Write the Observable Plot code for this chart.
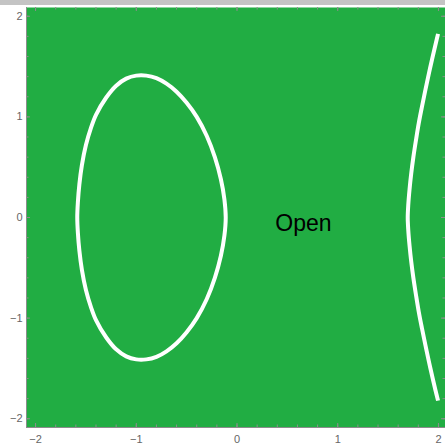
<!DOCTYPE html>
<html>
<head>
<meta charset="utf-8">
<script src="https://cdn.jsdelivr.net/npm/d3@7"></script>
<script src="https://cdn.jsdelivr.net/npm/@observablehq/plot@0.6"></script>
<style>
  html, body { margin: 0; padding: 0; background: #fff; }
  #bar { height: 5px; background: #c4c4c4; }
  #chart svg { display: block; }
</style>
</head>
<body>
<div id="bar"></div>
<div id="chart"></div>
<script>
// Oval (closed loop)
const ovalX = [-1.586, -1.580, -1.565, -1.54, -1.50, -1.45, -1.40, -1.30, -1.20, -1.10, -1.00, -0.90, -0.80, -0.70, -0.60, -0.50, -0.40, -0.30, -0.22, -0.16, -0.125, -0.112,
               -0.125, -0.16, -0.22, -0.30, -0.40, -0.50, -0.60, -0.70, -0.80, -0.90, -1.00, -1.10, -1.20, -1.30, -1.40, -1.45, -1.50, -1.54, -1.565, -1.580];
const ovalY = [0, 0.15, 0.33, 0.52, 0.72, 0.89, 1.02, 1.19, 1.31, 1.38, 1.41, 1.41, 1.385, 1.33, 1.25, 1.14, 1.00, 0.81, 0.60, 0.38, 0.18, 0,
               -0.18, -0.38, -0.60, -0.81, -1.00, -1.14, -1.25, -1.33, -1.385, -1.41, -1.41, -1.38, -1.31, -1.19, -1.02, -0.89, -0.72, -0.52, -0.33, -0.15];
// Right (open) branch
const rightX = [1.996, 1.971, 1.943, 1.907, 1.871, 1.836, 1.805, 1.777, 1.751, 1.730, 1.713, 1.700, 1.695, 1.700, 1.713, 1.730, 1.751, 1.777, 1.805, 1.836, 1.871, 1.907, 1.943, 1.971, 1.996];
const rightY = [1.825, 1.72, 1.60, 1.44, 1.27, 1.10, 0.94, 0.77, 0.60, 0.44, 0.28, 0.12, 0, -0.12, -0.28, -0.44, -0.60, -0.77, -0.94, -1.10, -1.27, -1.44, -1.60, -1.72, -1.82];
// Text label
const labelText = ["Open"];
const labelX = [0.66];
const labelY = [-0.06];
// Ticks
const majorTicks = [-2, -1, 0, 1, 2];
const minorTicks = [-2, -1.8, -1.6, -1.4, -1.2, -1, -0.8, -0.6, -0.4, -0.2, 0, 0.2, 0.4, 0.6, 0.8, 1, 1.2, 1.4, 1.6, 1.8, 2];

const xDomain = [-2.09, 2.07];
const yDomain = [-2.087, 2.087];

const W = 445, H = 439;
const mT = 2, mB = 17, mL = 26, mR = 0;
const pw = W - mL - mR, ph = H - mT - mB;

const oval = ovalX.map((x, i) => ({x, y: ovalY[i]}));
const right = rightX.map((x, i) => ({x, y: rightY[i]}));
const labels = labelText.map((t, i) => ({t, x: labelX[i], y: labelY[i]}));

const green = "#21ad43";
const axisGray = "#8c8c8c";
const font = "Liberation Sans, Arial, sans-serif";
const fmt = d3.format("d");

const chart = Plot.plot({
  width: W, height: H,
  marginTop: mT, marginBottom: mB, marginLeft: mL, marginRight: mR,
  x: {domain: xDomain},
  y: {domain: yDomain},
  style: {background: "white"},
  marks: [
    Plot.frame({fill: green, stroke: null}),
    Plot.tickX(minorTicks, {x: d => d, stroke: axisGray, insetTop: ph - 2.5}),
    Plot.tickX(majorTicks, {x: d => d, stroke: axisGray, insetTop: ph - 4}),
    Plot.tickX(minorTicks, {x: d => d, stroke: axisGray, insetBottom: ph - 2.5}),
    Plot.tickX(majorTicks, {x: d => d, stroke: axisGray, insetBottom: ph - 4}),
    Plot.tickY(minorTicks, {y: d => d, stroke: axisGray, insetRight: pw - 2.5}),
    Plot.tickY(majorTicks, {y: d => d, stroke: axisGray, insetRight: pw - 4}),
    Plot.tickY(minorTicks, {y: d => d, stroke: axisGray, insetLeft: pw - 2.5}),
    Plot.tickY(majorTicks, {y: d => d, stroke: axisGray, insetLeft: pw - 4}),
    Plot.ruleY([yDomain[0]], {stroke: axisGray}),
    Plot.ruleX([xDomain[0]], {stroke: axisGray}),
    Plot.line(oval, {x: "x", y: "y", curve: "catmull-rom-closed", stroke: "white", strokeWidth: 4}),
    Plot.line(right, {x: "x", y: "y", curve: "catmull-rom", stroke: "white", strokeWidth: 4, strokeLinecap: "butt"}),
    Plot.text(labels, {x: "x", y: "y", text: "t", fontSize: 23, fill: "black", fontFamily: font, lineAnchor: "middle"}),
    Plot.axisX(majorTicks, {tickSize: 0, tickPadding: 8, fontSize: 11, fill: "#666", fontFamily: font, tickFormat: fmt, label: null}),
    Plot.axisY(majorTicks, {tickSize: 0, tickPadding: 4, fontSize: 11, fill: "#666", fontFamily: font, tickFormat: fmt, label: null})
  ]
});
document.getElementById("chart").appendChild(chart);
</script>
</body>
</html>
